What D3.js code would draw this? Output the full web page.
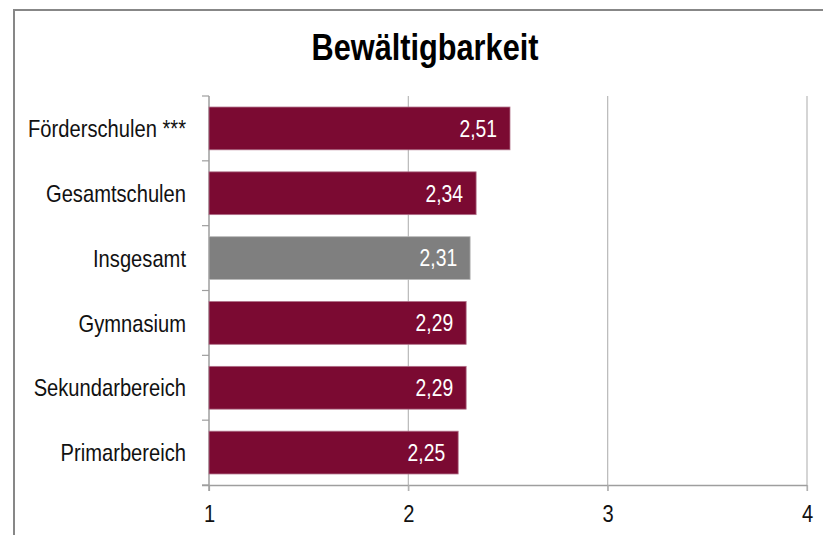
<!DOCTYPE html>
<html><head><meta charset="utf-8">
<script src="https://cdn.jsdelivr.net/npm/d3@7"></script>
<style>
body{margin:0;background:#fff;}
text{font-family:"Liberation Sans",Arial,sans-serif;}
</style></head>
<body><svg id="c" width="823" height="535"></svg>
<script>
const categories = ["Förderschulen ***","Gesamtschulen","Insgesamt","Gymnasium","Sekundarbereich","Primarbereich"];
const values = [2.51, 2.34, 2.31, 2.29, 2.29, 2.25];
const highlight = ["Insgesamt"];
const xTicks = [1,2,3,4];
const title = "Bewältigbarkeit";
const SX = 0.84; // narrow font emulation

const svg = d3.select("#c");
svg.append("rect").attr("x",14).attr("y",10).attr("width",830).attr("height",540)
  .attr("fill","#fff").attr("stroke","#878787").attr("stroke-width",2);

const x = d3.scaleLinear().domain([1,4]).range([209,807]);
const y = d3.scaleBand().domain(categories).range([96,485]).paddingInner(0.34).paddingOuter(0.17);

// gridlines
svg.append("g").selectAll("line").data(xTicks.slice(1)).join("line")
  .attr("x1",d=>x(d)).attr("x2",d=>x(d)).attr("y1",96).attr("y2",491)
  .attr("stroke","#b9b9b9").attr("stroke-width",1.2);

// x axis
const xa = svg.append("g").attr("transform","translate(0,485)")
  .call(d3.axisBottom(x).tickValues(xTicks).tickSize(6).tickPadding(14).tickFormat(d3.format("d")));
xa.select(".domain").attr("stroke","#9e9e9e").attr("stroke-width",1.5).attr("d","M202,0.5H807");
xa.selectAll(".tick line").attr("stroke","#b0b0b0").attr("stroke-width",1.2);
xa.selectAll(".tick text").attr("font-size",24).attr("fill","#111").attr("font-family",null)
  .attr("transform",`scale(${SX},1)`);

// y axis line and category ticks
const bounds = categories.map(c=>y(c)-y.step()*y.paddingInner()/2).concat([485]);
svg.append("line").attr("x1",209).attr("x2",209).attr("y1",96).attr("y2",491)
  .attr("stroke","#9e9e9e").attr("stroke-width",1.5);
svg.append("g").selectAll("line").data(bounds).join("line")
  .attr("x1",202).attr("x2",209).attr("y1",d=>d).attr("y2",d=>d)
  .attr("stroke","#9e9e9e").attr("stroke-width",1.2);

// bars
svg.append("g").selectAll("rect").data(categories).join("rect")
  .attr("x",x(1)).attr("y",d=>y(d)).attr("height",y.bandwidth())
  .attr("width",(d,i)=>x(values[i])-x(1))
  .attr("fill",d=>highlight.includes(d)?"#7f7f7f":"#7b0a32")
  .attr("stroke",d=>highlight.includes(d)?"#b8b8b8":"#b07088").attr("stroke-width",0.8);

// value labels
svg.append("g").selectAll("text").data(categories).join("text")
  .attr("transform",(d,i)=>`translate(${x(values[i])-13},${y(d)+y.bandwidth()/2}) scale(${SX},1)`)
  .attr("dy","0.36em")
  .attr("text-anchor","end").attr("fill","#fff").attr("font-size",23)
  .text((d,i)=>d3.format(".2f")(values[i]).replace(".",","));

// category labels
svg.append("g").selectAll("text").data(categories).join("text")
  .attr("transform",d=>`translate(186,${y(d)+y.bandwidth()/2}) scale(${SX},1)`)
  .attr("dy","0.36em")
  .attr("text-anchor","end").attr("fill","#111").attr("font-size",24)
  .text(d=>d);

svg.append("text").attr("transform",`translate(425,60) scale(0.83,1)`).attr("text-anchor","middle")
  .attr("font-size",37).attr("font-weight","bold").attr("fill","#000").text(title);
</script></body></html>
